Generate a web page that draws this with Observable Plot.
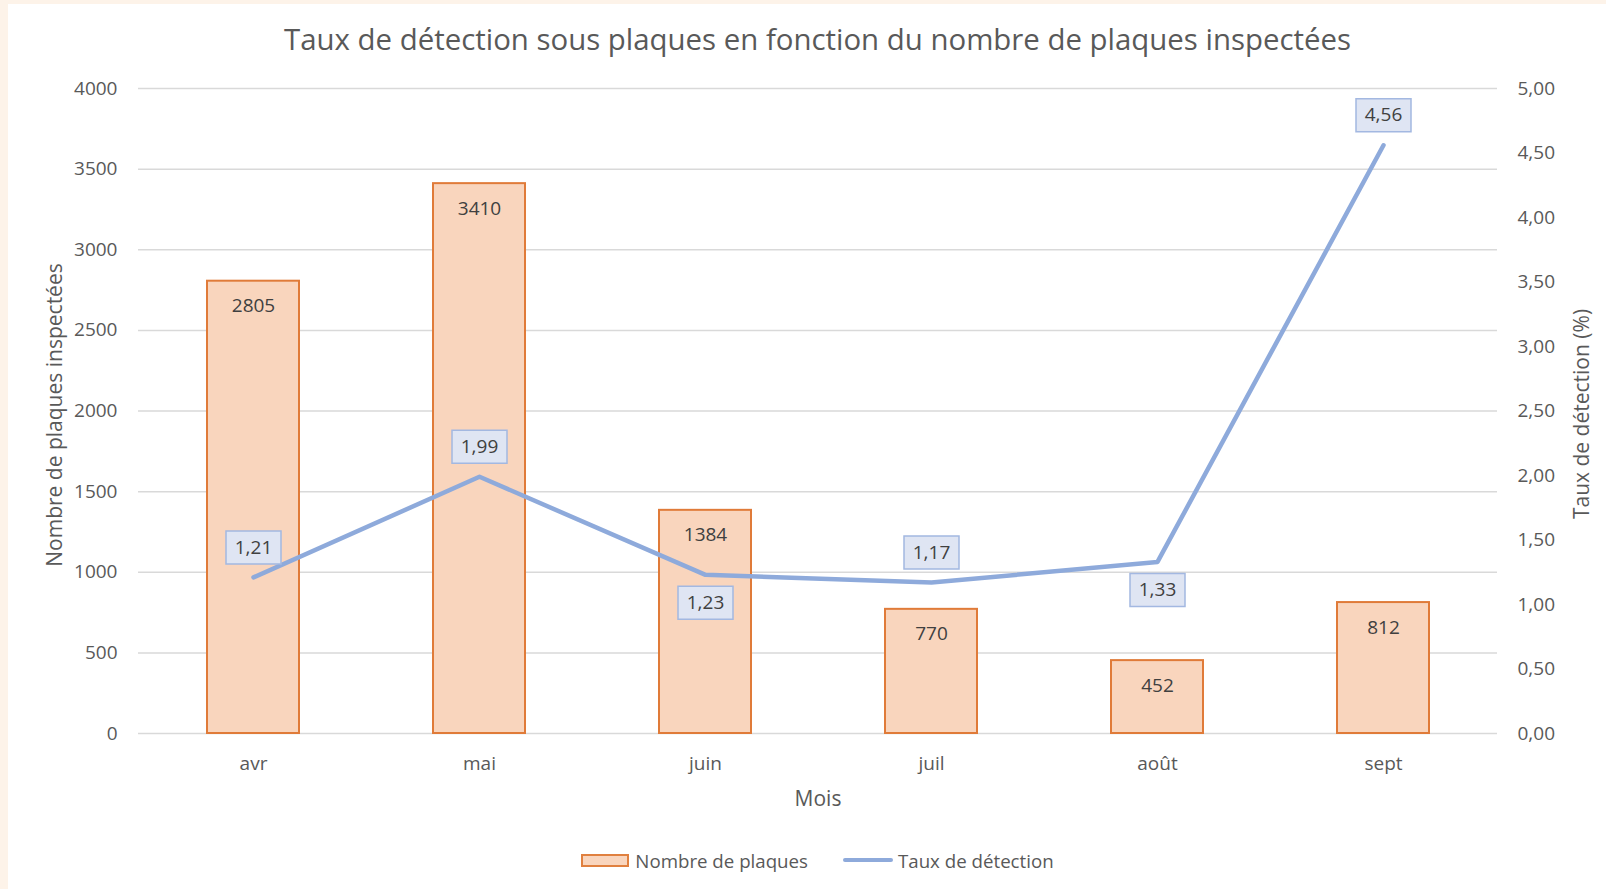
<!DOCTYPE html>
<html lang="fr">
<head>
<meta charset="utf-8">
<script src="https://cdn.jsdelivr.net/npm/d3@7"></script>
<script src="https://cdn.jsdelivr.net/npm/@observablehq/plot@0.6"></script>
<style>
  html, body { margin: 0; padding: 0; background: #ffffff; }
  #root {
    position: relative; width: 1606px; height: 889px; overflow: hidden;
    background: #ffffff; box-shadow: inset 8px 4px 0 #fdf3e9;
    font-family: "Open Sans", sans-serif; color: #595959;
  }
  #title {
    position: absolute; left: 138px; top: 0; width: 1359px; height: 78px;
    line-height: 78px; text-align: center; font-size: 29.4px;
  }
  #chart { position: absolute; left: 0; top: 70px; }
  #legend {
    position: absolute; left: 138px; top: 847px; width: 1359px; height: 26px;
    display: flex; justify-content: center; align-items: center; font-size: 18.7px;
  }
  .sw-bar { width: 44px; height: 9px; background: #f9d5bd; border: 2px solid #e0803f; margin-right: 6px; }
  .sw-line { width: 50px; height: 4px; background: #8eaadb; border-radius: 2px; margin-left: 35px; margin-right: 5px; }
</style>
</head>
<body>
<div id="root">
  <div id="title">Taux de détection sous plaques en fonction du nombre de plaques inspectées</div>
  <div id="chart"></div>
  <div id="legend">
    <span class="sw-bar"></span><span>Nombre de plaques</span>
    <span class="sw-line"></span><span>Taux de détection</span>
  </div>
</div>
<script>
// ---- data ----
const months = ["avr", "mai", "juin", "juil", "août", "sept"];
const plaques = [2805, 3410, 1384, 770, 452, 812];
const taux = [1.21, 1.99, 1.23, 1.17, 1.33, 4.56];
const labelSide = ["above", "above", "below", "above", "below", "above"];
const countTicks = [0, 500, 1000, 1500, 2000, 2500, 3000, 3500, 4000];
const rateTicks = [0, 0.5, 1, 1.5, 2, 2.5, 3, 3.5, 4, 4.5, 5];

// right axis (0–5 %) shares the frame with the left axis (0–4000)
const countMax = 4000, rateMax = 5;
const k = countMax / rateMax;

const data = months.map((m, i) => ({ month: m, plaques: plaques[i], taux: taux[i], side: labelSide[i] }));
const fr = v => v.toFixed(2).replace(".", ",");

const labelBox = { draw(ctx) { ctx.rect(-27.5, -16.5, 55, 33); } };

const above = data.filter(d => d.side === "above");
const below = data.filter(d => d.side === "below");

const chart = Plot.plot({
  width: 1606, height: 763,
  marginTop: 18, marginBottom: 100, marginLeft: 138, marginRight: 109,
  style: { fontFamily: "'Open Sans', sans-serif", fontSize: "19px", color: "#595959", background: "transparent", overflow: "visible" },
  x: { type: "band", domain: months, paddingInner: 0.594, paddingOuter: 0.297, label: null },
  y: { domain: [0, countMax], label: null },
  marks: [
    Plot.gridY(countTicks, { stroke: "#d9d9d9", strokeOpacity: 1, strokeWidth: 1.5 }),
    Plot.barY(data, { x: "month", y: "plaques", fill: "#f9d5bd", stroke: "#e07b39", strokeWidth: 2 }),
    Plot.text(data, { x: "month", y: "plaques", text: d => String(d.plaques), dy: 25, fill: "#404040" }),
    Plot.line(data, { x: "month", y: d => d.taux * k, stroke: "#8eaadb", strokeWidth: 4.5, strokeLinecap: "round", strokeLinejoin: "round" }),
    Plot.dot(above, { x: "month", y: d => d.taux * k, symbol: labelBox, r: 10, fill: "#dfe5f3", stroke: "#a3b8e1", strokeWidth: 1.5, dy: -30 }),
    Plot.text(above, { x: "month", y: d => d.taux * k, text: d => fr(d.taux), dy: -30, fill: "#404040" }),
    Plot.dot(below, { x: "month", y: d => d.taux * k, symbol: labelBox, r: 10, fill: "#dfe5f3", stroke: "#a3b8e1", strokeWidth: 1.5, dy: 28 }),
    Plot.text(below, { x: "month", y: d => d.taux * k, text: d => fr(d.taux), dy: 28, fill: "#404040" }),
    Plot.axisY(countTicks, { anchor: "left", tickSize: 0, tickPadding: 21, tickFormat: d => String(d), label: null }),
    Plot.axisY(rateTicks.map(r => r * k), { anchor: "right", tickSize: 0, tickPadding: 20, tickFormat: d => fr(d / k), label: null }),
    Plot.axisX({ tickSize: 0, tickPadding: 23, label: null }),
    Plot.text(["Nombre de plaques inspectées"], { text: d => d, frameAnchor: "left", textAnchor: "middle", lineAnchor: "middle", rotate: -90, dx: -83, dy: 4, fontSize: 21 }),
    Plot.text(["Taux de détection (%)"], { text: d => d, frameAnchor: "right", textAnchor: "middle", lineAnchor: "middle", rotate: -90, dx: 85, dy: 3, fontSize: 21 }),
    Plot.text(["Mois"], { text: d => d, frameAnchor: "bottom", textAnchor: "middle", lineAnchor: "middle", dy: 66, fontSize: 21 })
  ]
});
document.getElementById("chart").appendChild(chart);
</script>
</body>
</html>
